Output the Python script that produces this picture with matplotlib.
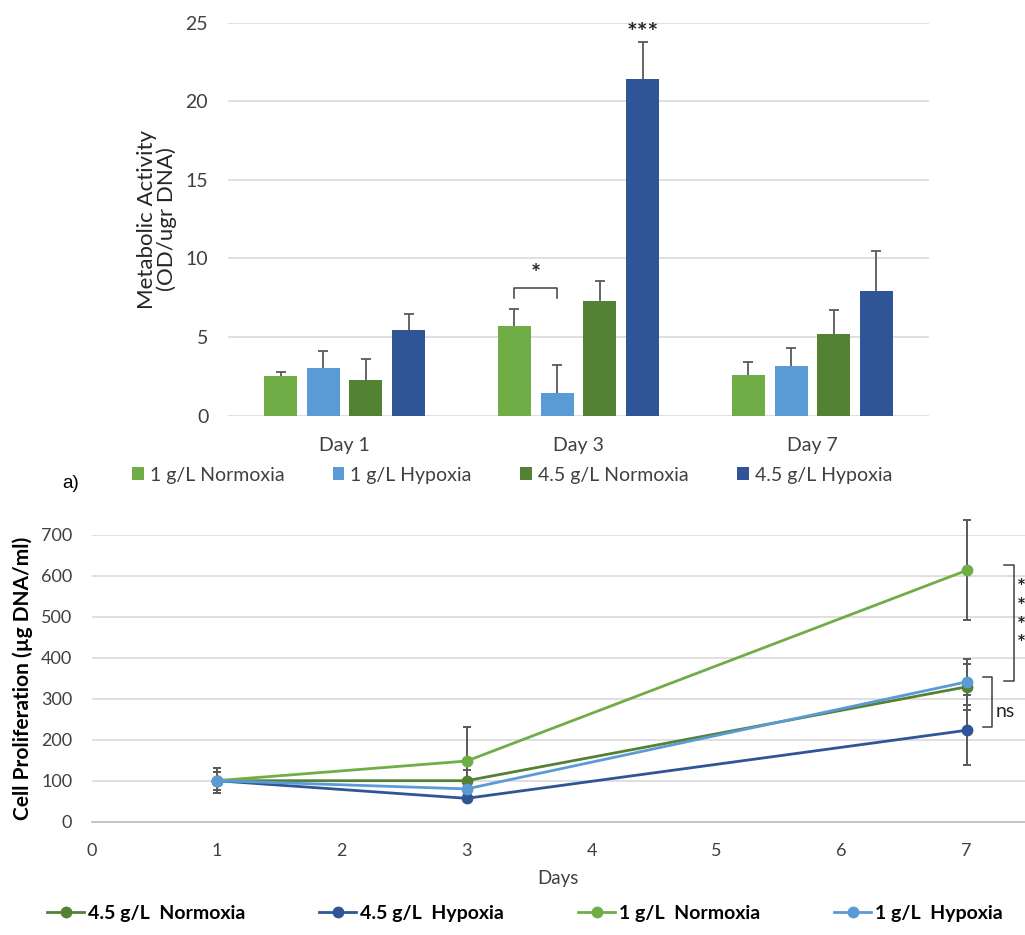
import matplotlib
matplotlib.use("Agg")
import matplotlib.pyplot as plt
from matplotlib.lines import Line2D
from matplotlib.patches import Patch
import numpy as np

plt.rcParams['font.family'] = ['Lato', 'DejaVu Sans']

# ---------------- data: top chart (metabolic activity) ----------------
day_labels = ['Day 1', 'Day 3', 'Day 7']
bar_series = ['1 g/L Normoxia', '1 g/L Hypoxia', '4.5 g/L Normoxia', '4.5 g/L Hypoxia']
n1_vals = [2.54, 5.68, 2.61]
n1_err = [0.26, 1.08, 0.80]
h1_vals = [3.05, 1.46, 3.14]
h1_err = [1.08, 1.78, 1.16]
n45_vals = [2.25, 7.27, 5.17]
n45_err = [1.35, 1.32, 1.53]
h45_vals = [5.47, 21.42, 7.95]
h45_err = [1.02, 2.35, 2.52]

# ---------------- data: bottom chart (cell proliferation) ----------------
days = [1, 3, 7]
line_series = ['4.5 g/L  Normoxia', '4.5 g/L  Hypoxia', '1 g/L  Normoxia', '1 g/L  Hypoxia']
p45n = [100, 100, 329]
p45n_err = [30, 26, 56]
p45h = [100, 57, 223]
p45h_err = [22, 7, 85]
p1n = [100, 148, 613]
p1n_err = [22, 82, 122]
p1h = [100, 80, 341]
p1h_err = [30, 9, 57]

C_LG = '#70AD47'
C_LB = '#5B9BD5'
C_DG = '#548235'
C_DB = '#2F5597'
C_ERR = '#595959'
C_GRID = '#D9D9D9'
C_TXT = '#404040'

W, H = 1025, 935
fig = plt.figure(figsize=(W / 100, H / 100), dpi=100)

def fx(px):
    return px / W

def fy(py):
    return 1 - py / H

# ================= top chart =================
ax1 = fig.add_axes([fx(227.7), fy(415.7), fx(929.3 - 227.7), (415.7 - 22.7) / H])
x = np.arange(len(day_labels))
step = 0.1825
bw = 0.141
vals = [n1_vals, h1_vals, n45_vals, h45_vals]
errs = [n1_err, h1_err, n45_err, h45_err]
cols = [C_LG, C_LB, C_DG, C_DB]
for i, (v, e, c) in enumerate(zip(vals, errs, cols)):
    xi = x + (i - 1.5) * step
    ax1.bar(xi, v, width=bw, color=c, zorder=2, label=bar_series[i])
    v = np.array(v); e = np.array(e)
    ax1.vlines(xi, v, v + e, color=C_ERR, lw=1.3, zorder=3)
    ax1.scatter(xi, v + e, marker='_', s=55, color=C_ERR, linewidths=1.3, zorder=3)

ax1.set_ylim(0, 25)
ax1.set_xlim(-0.5, 2.5)
ax1.set_yticks([0, 5, 10, 15, 20, 25])
ax1.set_xticks(x)
ax1.set_xticklabels(day_labels)
ax1.grid(axis='y', color=C_GRID, lw=1.2, zorder=0)
ax1.set_axisbelow(True)
for s in ax1.spines.values():
    s.set_visible(False)
ax1.tick_params(axis='both', length=0, labelsize=14, colors=C_TXT)
ax1.tick_params(axis='y', pad=14)
ax1.tick_params(axis='x', pad=15)
ax1.set_ylabel('Metabolic Activity\n(OD/ugr DNA)', fontsize=16, color='#262626', labelpad=6,
               linespacing=1.0)

# significance marks (Day 3)
xa = x[1] + (0 - 1.5) * step
xb = x[1] + (1 - 1.5) * step
ax1.plot([xa, xa, xb, xb], [7.47, 8.1, 8.1, 7.47], color=C_TXT, lw=1.1, zorder=4)
ax1.text((xa + xb) / 2, 9.0, '*', ha='center', va='center', fontsize=17, fontweight='bold',
         color='#262626')
xc = x[1] + (3 - 1.5) * step
ax1.text(xc, 24.3, '***', ha='center', va='center', fontsize=18, fontweight='bold',
         color='#262626')

hb = [Patch(facecolor=c, edgecolor='none') for c in cols]
fig.legend(hb, bar_series, loc='center', bbox_to_anchor=(fx(512), fy(475)), ncol=4,
           frameon=False, fontsize=14, handlelength=0.6, handleheight=0.6,
           handletextpad=0.3, columnspacing=2.5, labelcolor=C_TXT)

fig.text(fx(62), fy(483), 'a)', fontsize=13.5, family='Liberation Sans', va='center', ha='left',
         color='#000000')

# ================= bottom chart =================
ax2 = fig.add_axes([fx(91.7), fy(821.7), fx(W - 91.7), (821.7 - 534.7) / H])
pvals = [p45n, p45h, p1n, p1h]
perrs = [p45n_err, p45h_err, p1n_err, p1h_err]
pcols = [C_DG, C_DB, C_LG, C_LB]
for i, (v, e, c) in enumerate(zip(pvals, perrs, pcols)):
    eb = ax2.errorbar(days, v, yerr=e, fmt='none', ecolor=C_ERR, elinewidth=1.4,
                      capsize=3.2, capthick=1.4, zorder=2 + i * 0.1)
    for art in list(eb.lines[1]) + list(eb.lines[2]):
        art.set_clip_on(False)
for i, (v, c) in enumerate(zip(pvals, pcols)):
    ax2.plot(days, v, '-o', color=c, lw=2.0, markersize=7.5, zorder=3 + i * 0.1,
             label=line_series[i], clip_on=False)

ax2.set_xlim(0, (W - 91.7) / 125.0)
ax2.set_ylim(0, 700)
ax2.set_xticks(range(0, 8))
ax2.set_yticks(range(0, 701, 100))
ax2.grid(axis='y', color=C_GRID, lw=1.2, zorder=0)
ax2.set_axisbelow(True)
for s in ax2.spines.values():
    s.set_visible(False)
ax2.spines['bottom'].set_visible(True)
ax2.spines['bottom'].set_color('#BFBFBF')
ax2.spines['bottom'].set_linewidth(1.2)
ax2.tick_params(axis='both', length=0, labelsize=13, colors=C_TXT)
ax2.tick_params(axis='y', pad=14)
ax2.tick_params(axis='x', pad=15)
ax2.set_xlabel('Days', fontsize=13.5, color=C_TXT, labelpad=8)
ax2.set_ylabel('Cell Proliferation (µg DNA/ml)', fontsize=15, fontweight='bold',
               color='#000000', labelpad=6)

# significance brackets at Day 7 (data coordinates on y)
bx1_l, bx1_r = 7.30, 7.38
ax2.plot([bx1_l, bx1_r, bx1_r, bx1_l], [625, 625, 344, 344], color=C_TXT, lw=1.1, clip_on=False)
for yy in [570, 524, 477, 433]:
    ax2.text(7.44, yy, '*', ha='center', va='center', fontsize=15, fontweight='bold',
             color='#262626', clip_on=True)
bx2_l, bx2_r = 7.13, 7.20
ax2.plot([bx2_l, bx2_r, bx2_r, bx2_l], [354, 354, 231, 231], color=C_TXT, lw=1.1, clip_on=False)
ax2.text(7.23, 268, 'ns', ha='left', va='center', fontsize=14, color='#262626')

lh = [Line2D([0], [0], color=c, lw=2.0, marker='o', markersize=7.5) for c in pcols]
fig.legend(lh, line_series, loc='center', bbox_to_anchor=(fx(525), fy(913)), ncol=4,
           frameon=False, prop={'size': 14, 'weight': 'bold'}, handlelength=1.9,
           handletextpad=0.2, columnspacing=3.8)

fig.savefig('out.png', dpi=100)
